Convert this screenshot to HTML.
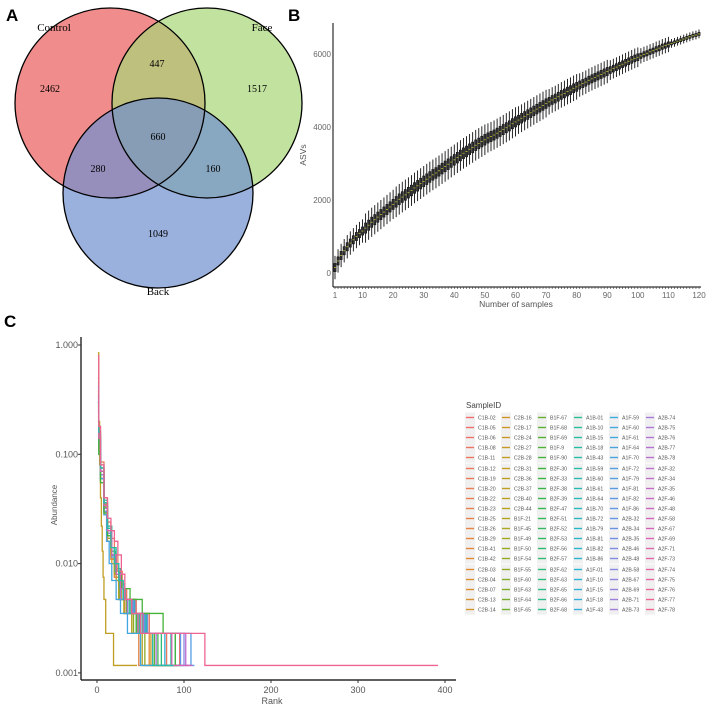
<!DOCTYPE html>
<html><head><meta charset="utf-8">
<style>
html,body{margin:0;padding:0;background:#fff;}
svg{display:block;font-family:"Liberation Sans",sans-serif;}
</style></head>
<body>
<svg id="fig" width="709" height="708" viewBox="0 0 709 708">
<g>
<text x="6" y="21" font-size="17" font-weight="bold">A</text>
<circle cx="110" cy="103" r="95" fill="#ee6f6f" fill-opacity="0.8"/>
<circle cx="207" cy="103" r="95" fill="#a8d678" fill-opacity="0.7"/>
<circle cx="158" cy="193" r="95" fill="#6f8fcf" fill-opacity="0.7"/>
<circle cx="110" cy="103" r="95" fill="none" stroke="#000" stroke-width="1.3"/>
<circle cx="207" cy="103" r="95" fill="none" stroke="#000" stroke-width="1.3"/>
<circle cx="158" cy="193" r="95" fill="none" stroke="#000" stroke-width="1.3"/>
<g font-family="Liberation Serif,serif" font-size="10" text-anchor="middle">
<text x="54" y="31" font-size="11">Control</text>
<text x="262" y="31" font-size="11">Face</text>
<text x="158" y="295" font-size="11">Back</text>
<text x="50" y="92">2462</text>
<text x="157" y="67">447</text>
<text x="257" y="92">1517</text>
<text x="158" y="140">660</text>
<text x="98" y="172">280</text>
<text x="213" y="172">160</text>
<text x="158" y="237">1049</text>
</g>
</g>
<text x="288" y="21" font-size="17" font-weight="bold">B</text>
<text x="4" y="327" font-size="17" font-weight="bold">C</text>
<g id="panelB"></g>
<g id="panelC"></g>
<g id="legend"></g>
</svg>
<script>
// ---- Panel B data ----
const bMedians = [150,330,480,610,720,820,910,1000,1080,1150,
1230,1310,1390,1460,1530,1600,1670,1740,1810,1880,
1950,2020,2080,2140,2200,2260,2330,2390,2450,2510,
2570,2630,2690,2740,2800,2860,2920,2980,3040,3100,
3160,3220,3280,3330,3390,3440,3500,3550,3600,3650,
3700,3740,3780,3830,3880,3930,3980,4030,4090,4140,
4190,4240,4290,4340,4390,4440,4490,4540,4590,4640,
4690,4740,4780,4830,4880,4920,4970,5010,5060,5100,
5150,5190,5230,5280,5320,5360,5400,5440,5480,5520,
5560,5600,5640,5680,5720,5760,5800,5840,5880,5910,
5950,5990,6020,6060,6090,6130,6160,6200,6230,6260,
6290,6320,6350,6380,6410,6440,6470,6500,6520,6550];
const bSpreadByDecade = [320,400,420,420,420,400,380,350,320,270,210,120];
const bXTicks = [1,10,20,30,40,50,60,70,80,90,100,110,120];
const bYTicks = [0,2000,4000,6000];

// ---- Panel C data ----
const cXTicks = [0,100,200,300,400];
const cYTicks = [1,0.1,0.01,0.001];
const cYTickLabels = ["1.000","0.100","0.010","0.001"];
const cSeriesColorIdx = [3,48,22,86,35,95,10,60,78,40,15,105,30,70,55,90,5,100,26,82,44,112,65,118];
const cSeries = [
 [[1,0.35],[2,0.14],[4,0.07],[8,0.035],[12,0.02],[17,0.012],[22,0.008],[27,0.0059],[32,0.0047],[42,0.0035],[55,0.0023],[95,0.00117],[98,0.00117]],
 [[1,0.3],[2,0.13],[4,0.065],[8,0.032],[12,0.018],[17,0.011],[22,0.007],[27,0.0047],[34,0.0035],[45,0.0023],[70,0.00117],[88,0.00117]],
 [[1,0.25],[2,0.12],[4,0.06],[8,0.03],[12,0.017],[17,0.01],[22,0.007],[28,0.0047],[37,0.0035],[48,0.0023],[62,0.00117],[82,0.00117]],
 [[1,0.4],[2,0.15],[4,0.075],[8,0.036],[12,0.021],[16,0.014],[20,0.01],[25,0.007],[30,0.0047],[39,0.0035],[50,0.0023],[108,0.00117],[112,0.00117]],
 [[1,0.28],[2,0.12],[4,0.06],[8,0.03],[12,0.017],[16,0.011],[20,0.0075],[25,0.0047],[31,0.0035],[42,0.0023],[55,0.00117],[92,0.00117]],
 [[1,0.32],[2,0.14],[4,0.07],[8,0.034],[12,0.02],[17,0.012],[22,0.008],[27,0.0059],[33,0.0047],[44,0.0035],[58,0.0023],[100,0.00117],[104,0.00117]],
 [[1,0.22],[2,0.11],[4,0.055],[8,0.028],[12,0.016],[16,0.011],[20,0.0075],[26,0.0047],[32,0.0035],[40,0.0023],[48,0.00117],[75,0.00117]],
 [[1,0.45],[2,0.16],[4,0.08],[8,0.038],[12,0.022],[17,0.014],[22,0.009],[27,0.0065],[32,0.0047],[42,0.0035],[56,0.0023],[85,0.00117],[90,0.00117]],
 [[1,0.3],[2,0.13],[4,0.065],[8,0.032],[12,0.019],[17,0.012],[22,0.008],[27,0.0059],[32,0.0047],[41,0.0035],[54,0.0023],[78,0.00117],[96,0.00117]],
 [[1,0.27],[2,0.12],[4,0.06],[8,0.03],[12,0.018],[17,0.012],[21,0.008],[26,0.0047],[34,0.0035],[46,0.0023],[66,0.00117],[86,0.00117]],
 [[1,0.38],[2,0.15],[4,0.075],[8,0.035],[12,0.02],[16,0.013],[20,0.009],[25,0.0059],[30,0.0047],[37,0.0035],[47,0.0023],[60,0.00117],[80,0.00117]],
 [[1,0.24],[2,0.11],[4,0.06],[8,0.03],[12,0.018],[17,0.012],[22,0.008],[27,0.0059],[34,0.0047],[45,0.0035],[60,0.0023],[102,0.00117],[110,0.00117]],
 [[1,0.36],[2,0.14],[4,0.07],[8,0.033],[12,0.019],[16,0.012],[20,0.008],[25,0.0047],[31,0.0035],[40,0.0023],[52,0.00117],[70,0.00117]],
 [[1,0.29],[2,0.13],[4,0.065],[8,0.032],[12,0.019],[17,0.012],[22,0.0085],[27,0.0059],[33,0.0047],[43,0.0035],[57,0.0023],[90,0.00117],[100,0.00117]],
 [[1,0.33],[2,0.14],[4,0.07],[8,0.034],[12,0.02],[17,0.013],[21,0.0085],[26,0.0059],[31,0.0047],[39,0.0035],[52,0.0023],[74,0.00117],[94,0.00117]],
 [[1,0.26],[2,0.12],[4,0.06],[8,0.03],[12,0.018],[17,0.0115],[22,0.008],[27,0.0059],[32,0.0047],[42,0.0035],[55,0.0023],[96,0.00117],[106,0.00117]],
 [[1,0.5],[2,0.18],[4,0.085],[8,0.04],[12,0.024],[16,0.017],[20,0.012],[24,0.0085],[29,0.0059],[34,0.0047],[45,0.0035],[60,0.0023],[80,0.00117],[92,0.00117]],
 [[1,0.3],[2,0.13],[4,0.065],[8,0.032],[12,0.019],[17,0.012],[22,0.008],[27,0.0047],[35,0.0035],[47,0.0023],[68,0.00117],[84,0.00117]],
 [[1,0.85],[2,0.2],[3,0.08],[4,0.04],[5,0.022],[6,0.013],[7,0.0075],[8,0.0047],[10,0.0023],[19,0.00117],[46,0.00117]],
 [[1,0.3],[2,0.13],[4,0.06],[8,0.028],[11,0.016],[14,0.01],[17,0.007],[22,0.0047],[27,0.0035],[35,0.0023],[50,0.00117],[66,0.00117]],
 [[1,0.2],[2,0.1],[4,0.055],[8,0.029],[12,0.018],[17,0.012],[22,0.008],[28,0.0059],[38,0.0047],[52,0.0035],[76,0.0023],[90,0.00117],[95,0.00117]],
 [[1,0.34],[2,0.14],[4,0.07],[8,0.034],[12,0.02],[17,0.012],[22,0.008],[27,0.0059],[32,0.0047],[40,0.0035],[53,0.0023],[86,0.00117],[108,0.00117]],
 [[1,0.42],[2,0.16],[4,0.075],[8,0.036],[12,0.021],[16,0.014],[20,0.01],[25,0.007],[30,0.0047],[37,0.0035],[49,0.0023],[64,0.00117],[88,0.00117]],
 [[1,0.8],[2,0.18],[4,0.08],[8,0.04],[12,0.026],[16,0.02],[20,0.016],[24,0.012],[28,0.008],[32,0.0047],[40,0.0035],[50,0.0023],[124,0.00117],[392,0.00117]]
];

// ---- Legend data ----
const legendLabels = [
"C1B-02","C1B-05","C1B-06","C1B-08","C1B-11","C1B-12","C1B-19","C1B-20","C1B-22","C1B-23","C1B-25","C1B-26","C1B-29","C1B-41","C1B-42","C2B-03","C2B-04","C2B-07","C2B-13","C2B-14",
"C2B-16","C2B-17","C2B-24","C2B-27","C2B-28","C2B-31","C2B-36","C2B-37","C2B-40","C2B-44","B1F-21","B1F-45","B1F-49","B1F-50","B1F-54","B1F-55","B1F-60","B1F-63","B1F-64","B1F-65",
"B1F-67","B1F-68","B1F-69","B1F-9","B1F-90","B2F-30","B2F-33","B2F-38","B2F-39","B2F-47","B2F-51","B2F-52","B2F-53","B2F-56","B2F-57","B2F-62","B2F-63","B2F-65","B2F-66","B2F-68",
"A1B-01","A1B-10","A1B-15","A1B-18","A1B-43","A1B-59","A1B-60","A1B-61","A1B-64","A1B-70","A1B-72","A1B-79","A1B-81","A1B-82","A1B-86","A1F-01","A1F-10","A1F-15","A1F-18","A1F-43",
"A1F-59","A1F-60","A1F-61","A1F-64","A1F-70","A1F-72","A1F-79","A1F-81","A1F-82","A1F-86","A2B-32","A2B-34","A2B-35","A2B-46","A2B-48","A2B-58","A2B-67","A2B-69","A2B-71","A2B-73",
"A2B-74","A2B-75","A2B-76","A2B-77","A2B-78","A2F-32","A2F-34","A2F-35","A2F-46","A2F-48","A2F-58","A2F-67","A2F-69","A2F-71","A2F-73","A2F-74","A2F-75","A2F-76","A2F-77","A2F-78"];

const NS='http://www.w3.org/2000/svg';
function mk(tag,attrs,parent){const e=document.createElementNS(NS,tag);for(const k in attrs)e.setAttribute(k,attrs[k]);parent.appendChild(e);return e;}
const hueStops=[[0,[240,110,110]],[15,[225,140,50]],[30,[180,165,30]],[45,[60,180,60]],[60,[40,190,150]],[75,[40,180,215]],[90,[100,150,230]],[100,[170,120,220]],[110,[210,100,190]],[119,[240,100,140]]];
function colorFor(i){
  for(let k=0;k<hueStops.length-1;k++){
    const a=hueStops[k][0],ca=hueStops[k][1],b=hueStops[k+1][0],cb=hueStops[k+1][1];
    if(i<=b){const t=(i-a)/(b-a);return 'rgb('+ca.map((v,j)=>Math.round(v+(cb[j]-v)*t)).join(',')+')';}
  }
  return 'rgb(240,100,140)';
}

// ---- Panel B ----
const pB=document.getElementById('panelB');
const bx=n=>335+(n-1)*364/119;
const by=v=>273-v*219/6000;
mk('line',{x1:333,y1:23,x2:333,y2:287,stroke:'#000','stroke-width':1},pB);
mk('line',{x1:333,y1:287,x2:701,y2:287,stroke:'#000','stroke-width':1},pB);
for(let n=1;n<=120;n++){mk('line',{x1:bx(n),y1:287,x2:bx(n),y2:289,stroke:'#333','stroke-width':0.6},pB);}
bXTicks.forEach(t=>{const e=mk('text',{x:bx(t),y:298,'font-size':8,fill:'#666','text-anchor':'middle'},pB);e.textContent=t;

});
bYTicks.forEach(t=>{const e=mk('text',{x:331,y:by(t)+3,'font-size':8,fill:'#666','text-anchor':'end'},pB);e.textContent=t;

});
bMedians.forEach((m,i)=>{
  const n=i+1,x=bx(n),s=bSpreadByDecade[Math.floor(i/10)];
  const g=mk('g',{},pB);
  
  
  mk('line',{x1:x,y1:by(m-s),x2:x,y2:by(m+s),stroke:'#111','stroke-width':0.9},g);
  mk('rect',{x:x-1.1,y:by(m+s*0.35),width:2.2,height:by(m-s*0.35)-by(m+s*0.35),fill:'#333',stroke:'#111','stroke-width':0.6},g);
  mk('line',{x1:x-1,y1:by(m),x2:x+1,y2:by(m),stroke:'#bbbb33','stroke-width':0.8},g);
});
{const e=mk('text',{x:516,y:307,'font-size':8.5,fill:'#555','text-anchor':'middle'},pB);e.textContent='Number of samples';

}
{const e=mk('text',{x:0,y:0,'font-size':8.5,fill:'#555','text-anchor':'middle',transform:'translate(306,155) rotate(-90)'},pB);e.textContent='ASVs';

}

// ---- Panel C ----
const pC=document.getElementById('panelC');
const cx=r=>97+r*0.87;
const cy=a=>345-Math.log10(a)*109.3;
mk('line',{x1:81,y1:337,x2:81,y2:680,stroke:'#000','stroke-width':1.2},pC);
mk('line',{x1:81,y1:680,x2:456,y2:680,stroke:'#000','stroke-width':1.2},pC);
cXTicks.forEach(t=>{mk('line',{x1:cx(t),y1:680,x2:cx(t),y2:683,stroke:'#333'},pC);
const e=mk('text',{x:cx(t),y:693,'font-size':9,fill:'#555','text-anchor':'middle'},pC);e.textContent=t;

});
cYTicks.forEach((t,i)=>{mk('line',{x1:78,y1:cy(t),x2:81,y2:cy(t),stroke:'#333'},pC);
const e=mk('text',{x:78,y:cy(t)+3,'font-size':9,fill:'#555','text-anchor':'end'},pC);e.textContent=cYTickLabels[i];

});
{const e=mk('text',{x:272,y:704,'font-size':9,fill:'#555','text-anchor':'middle'},pC);e.textContent='Rank';

}
{const e=mk('text',{x:0,y:0,'font-size':8,fill:'#555','text-anchor':'middle',transform:'translate(57,505) rotate(-90)'},pC);e.textContent='Abundance';

}
cSeries.forEach((pts,si)=>{
  let d='M'+cx(pts[0][0])+','+cy(pts[0][1]);
  for(let k=1;k<pts.length;k++){d+=' H'+cx(pts[k][0])+' V'+cy(pts[k][1]);}
  const p=mk('path',{d:d,fill:'none',stroke:colorFor(cSeriesColorIdx[si]),'stroke-width':1.3},pC);
  
  
});

// ---- Legend ----
const lg=document.getElementById('legend');
{const e=mk('text',{x:466,y:408,'font-size':8,fill:'#444'},lg);e.textContent='SampleID';

}
legendLabels.forEach((lab,i)=>{
  const col=Math.floor(i/20),row=i%20;
  const x=466+col*36,y=Math.round(417+row*10.1)+0.5;
  const g=mk('g',{},lg);
  
  
  mk('rect',{x:x-1,y:y-5,width:10,height:10.1,fill:'#f0f0f0'},g);
  mk('line',{x1:x,y1:y,x2:x+8,y2:y,stroke:colorFor(i),'stroke-width':1.4},g);
  const t=mk('text',{x:x+12,y:y+2,'font-size':5.2,fill:'#555'},g);t.textContent=lab;
});
</script>
</body></html>
